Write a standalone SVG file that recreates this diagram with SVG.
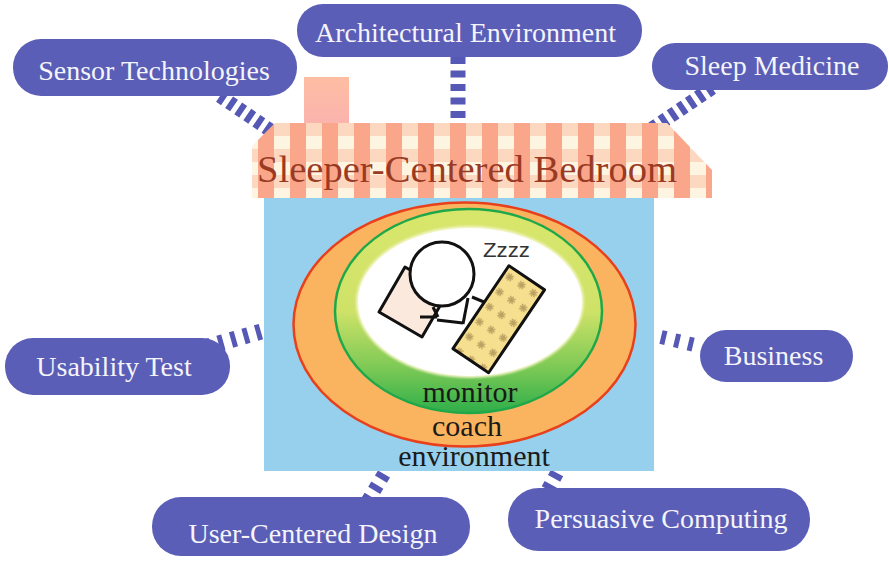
<svg xmlns="http://www.w3.org/2000/svg" width="889" height="562" viewBox="0 0 889 562">
  <style>
    .bubble { fill: #5a5eb6; }
    .blabel { font-family: "Liberation Serif", "Times New Roman", serif; font-size: 28px; fill: #f4f4fa; text-anchor: middle; }
    .link { fill: none; stroke: #5558b4; stroke-linecap: butt; }
    .ring-text { font-family: "Liberation Serif", "Times New Roman", serif; font-size: 30px; fill: #1a1a1a; text-anchor: middle; }
    .figure { stroke: #111; stroke-width: 3; stroke-linejoin: round; }
  </style>
  <defs>
    <!-- roof tiles: salmon columns with alternating peach / cream rows -->
    <pattern id="tiles" patternUnits="userSpaceOnUse" x="258" y="123" width="32" height="26">
      <rect width="32" height="26" fill="#fef4e2"/>
      <rect x="16" y="0" width="16" height="13" fill="#fdd8c0"/>
      <rect x="0" y="0" width="16" height="26" fill="#f9a68b"/>
    </pattern>
    <linearGradient id="chimneyFill" x1="0" y1="0" x2="0" y2="1">
      <stop offset="0" stop-color="#fdbda2"/>
      <stop offset="1" stop-color="#fbb3ae"/>
    </linearGradient>
    <linearGradient id="ringFill" x1="0" y1="0" x2="0" y2="1">
      <stop offset="0" stop-color="#d9e66c"/>
      <stop offset="0.5" stop-color="#cfe268"/>
      <stop offset="0.78" stop-color="#7cc955"/>
      <stop offset="1" stop-color="#2fae4a"/>
    </linearGradient>
    <filter id="soft" x="-10%" y="-10%" width="120%" height="120%">
      <feGaussianBlur stdDeviation="1.2"/>
    </filter>
    <!-- little marks printed on the blanket -->
    <pattern id="blanketMarks" patternUnits="userSpaceOnUse" x="-21.5" y="-50" width="14.3" height="18">
      <rect width="14.3" height="18" fill="#f6df8e"/>
      <path d="M4 6 L10 12 M10 6 L4 12 M7 5 V13 M3 9 H11" stroke="#a88c52" stroke-width="1.4" opacity="0.75"/>
    </pattern>
  </defs>

  <!-- connectors -->
  <g id="connectors">
    <line class="link" x1="458" y1="57" x2="458" y2="118" stroke-width="15" stroke-dasharray="7 6.5"/>
    <line class="link" x1="220" y1="96" x2="270" y2="130" stroke-width="14" stroke-dasharray="6 5"/>
    <line class="link" x1="712" y1="88" x2="650" y2="130" stroke-width="14" stroke-dasharray="6 5"/>
    <line class="link" x1="206" y1="347" x2="263" y2="331" stroke-width="16" stroke-dasharray="5 8"/>
    <line class="link" x1="661" y1="337" x2="699" y2="346" stroke-width="14" stroke-dasharray="5 9"/>
    <line class="link" x1="384" y1="474" x2="366" y2="504" stroke-width="14" stroke-dasharray="6 7"/>
    <line class="link" x1="557" y1="473" x2="546" y2="493" stroke-width="14" stroke-dasharray="6 7"/>
  </g>

  <!-- the bedroom house -->
  <g id="house">
    <rect id="chimney" x="304" y="77" width="45" height="48" fill="url(#chimneyFill)"/>
    <polygon id="roof" points="275,123 667,123 712,170 712,198 252,198 252,146" fill="url(#tiles)"/>
    <text x="467" y="182" font-family="Liberation Serif, Times New Roman, serif" font-size="38" fill="#9a3a22" text-anchor="middle" textLength="420" lengthAdjust="spacingAndGlyphs">Sleeper-Centered Bedroom</text>
    <rect id="room" x="264" y="198" width="390" height="273" fill="#97d0ec"/>
  </g>

  <!-- nested rings: environment / coach / monitor -->
  <g id="rings">
    <ellipse cx="464.5" cy="324.5" rx="171" ry="122" fill="#fab45f" stroke="#e8401c" stroke-width="2.5"/>
    <ellipse cx="468.5" cy="311" rx="133.5" ry="102" fill="url(#ringFill)" stroke="#1fa84a" stroke-width="2.5"/>
    <ellipse cx="470" cy="302" rx="114" ry="76" fill="#f3f5c8" filter="url(#soft)"/>
    <ellipse cx="470" cy="302" rx="112" ry="74" fill="#ffffff"/>
    <text class="ring-text" x="470" y="402">monitor</text>
    <text class="ring-text" x="467" y="436">coach</text>
    <text class="ring-text" x="474" y="466" fill="#16202c">environment</text>
  </g>

  <!-- sleeper -->
  <g id="sleeper">
    <polygon class="figure" points="405,267 379,312 422,337 448,292" fill="#fbe9de"/>
    <polyline class="figure" fill="none" points="420,317 437,317"/>
    <polyline class="figure" fill="none" points="433,307 438,317"/>
    <polyline class="figure" fill="none" points="437,320 463,323"/>
    <polyline class="figure" fill="none" points="468,298 463,324"/>
    <polyline class="figure" fill="none" points="472,297 484,302"/>
    <circle class="figure" cx="442" cy="274" r="32" fill="#ffffff"/>
    <g transform="translate(498.75 319.25) rotate(34)">
      <rect class="figure" x="-21.5" y="-50" width="43" height="100" fill="url(#blanketMarks)"/>
    </g>
    <text x="483" y="257" font-family="Liberation Sans, Arial, sans-serif" font-size="20" fill="#333333" textLength="47" lengthAdjust="spacingAndGlyphs">Zzzz</text>
  </g>

  <!-- topic bubbles -->
  <g id="sensor-technologies">
    <rect class="bubble" x="13" y="39" width="284" height="57" rx="28"/>
    <text class="blabel" x="154" y="80">Sensor Technologies</text>
  </g>
  <g id="architectural-environment">
    <rect class="bubble" x="297" y="4" width="345" height="53" rx="26"/>
    <text class="blabel" x="465.5" y="42">Architectural Environment</text>
  </g>
  <g id="sleep-medicine">
    <rect class="bubble" x="652" y="43" width="236" height="47" rx="23"/>
    <text class="blabel" x="772" y="75">Sleep Medicine</text>
  </g>
  <g id="usability-test">
    <rect class="bubble" x="5" y="338" width="225" height="57" rx="28"/>
    <text class="blabel" x="114" y="376">Usability Test</text>
  </g>
  <g id="business">
    <rect class="bubble" x="700" y="330" width="153" height="52" rx="26"/>
    <text class="blabel" x="773.5" y="365">Business</text>
  </g>
  <g id="user-centered-design">
    <rect class="bubble" x="152" y="497" width="318" height="59" rx="29"/>
    <text class="blabel" x="313" y="543">User-Centered Design</text>
  </g>
  <g id="persuasive-computing">
    <rect class="bubble" x="508" y="488" width="302" height="63" rx="31"/>
    <text class="blabel" x="661" y="528">Persuasive Computing</text>
  </g>
</svg>
